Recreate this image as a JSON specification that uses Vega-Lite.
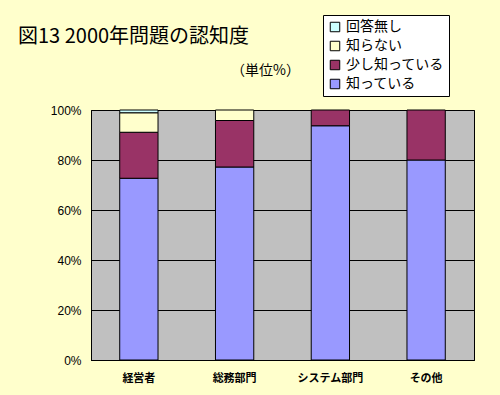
{
  "$schema": "https://vega.github.io/schema/vega-lite/v6.json",
  "autosize": {"type": "none"},
  "width": 383,
  "height": 250,
  "padding": {"left": 91, "top": 110, "right": 26, "bottom": 35},
  "background": "#FFFFCC",
  "title": {
    "text": "図13 2000年問題の認知度",
    "anchor": "start",
    "frame": "group",
    "dx": -73,
    "offset": 0,
    "dy": 32,
    "fontSize": 20,
    "fontWeight": "normal",
    "font": "Noto Sans CJK JP",
    "color": "#000000"
  },
  "data": {
    "values": [
      {"group": "経営者", "answer": "知っている", "rank": 1, "value": 72.7},
      {"group": "経営者", "answer": "少し知っている", "rank": 2, "value": 18.4},
      {"group": "経営者", "answer": "知らない", "rank": 3, "value": 7.8},
      {"group": "経営者", "answer": "回答無し", "rank": 4, "value": 1.1},
      {"group": "総務部門", "answer": "知っている", "rank": 1, "value": 77.2},
      {"group": "総務部門", "answer": "少し知っている", "rank": 2, "value": 18.6},
      {"group": "総務部門", "answer": "知らない", "rank": 3, "value": 4.2},
      {"group": "システム部門", "answer": "知っている", "rank": 1, "value": 93.7},
      {"group": "システム部門", "answer": "少し知っている", "rank": 2, "value": 6.3},
      {"group": "その他", "answer": "知っている", "rank": 1, "value": 80.0},
      {"group": "その他", "answer": "少し知っている", "rank": 2, "value": 20.0}
    ]
  },
  "mark": {"type": "bar", "stroke": "#000000", "strokeWidth": 1},
  "encoding": {
    "x": {
      "field": "group",
      "type": "nominal",
      "sort": ["経営者", "総務部門", "システム部門", "その他"],
      "scale": {"paddingInner": 0.6, "paddingOuter": 0.3},
      "axis": {
        "title": null,
        "labelAngle": 0,
        "labelFont": "Noto Sans CJK JP",
        "labelFontSize": 11,
        "labelFontWeight": "bold",
        "labelColor": "#000000",
        "labelPadding": 12,
        "domainColor": "#000000",
        "ticks": false,
        "grid": false
      }
    },
    "y": {
      "field": "value",
      "type": "quantitative",
      "stack": "zero",
      "scale": {"domain": [0, 100]},
      "axis": {
        "title": "（単位%）",
        "titleAngle": 0,
        "titleX": 174,
        "titleY": -33,
        "titleAlign": "center",
        "titleFont": "Noto Sans CJK JP",
        "titleFontSize": 14,
        "titleFontWeight": "normal",
        "titleColor": "#000000",
        "values": [0, 20, 40, 60, 80, 100],
        "labelExpr": "datum.value + '%'",
        "labelFont": "Liberation Sans",
        "labelFontSize": 12,
        "labelColor": "#000000",
        "labelPadding": 10,
        "ticks": false,
        "domainColor": "#000000",
        "grid": true,
        "gridColor": "#000000",
        "gridOpacity": 1,
        "gridWidth": 1
      }
    },
    "color": {
      "field": "answer",
      "type": "nominal",
      "scale": {
        "domain": ["回答無し", "知らない", "少し知っている", "知っている"],
        "range": ["#CCFFFF", "#FFFFCC", "#993366", "#9999FF"]
      },
      "legend": {
        "title": null,
        "orient": "none",
        "legendX": 232,
        "legendY": -95,
        "symbolType": "square",
        "symbolSize": 90,
        "symbolStrokeColor": "#000000",
        "symbolStrokeWidth": 1,
        "symbolOpacity": 1,
        "labelFont": "Noto Sans CJK JP",
        "labelFontSize": 14,
        "labelColor": "#000000",
        "labelOffset": 4,
        "rowPadding": 5,
        "padding": 5,
        "fillColor": "#FFFFFF",
        "strokeColor": "#000000",
        "labelLimit": 200
      }
    },
    "order": {"field": "rank", "type": "quantitative", "sort": "ascending"}
  },
  "config": {
    "view": {"fill": "#C0C0C0", "stroke": "#000000", "strokeWidth": 1}
  }
}
